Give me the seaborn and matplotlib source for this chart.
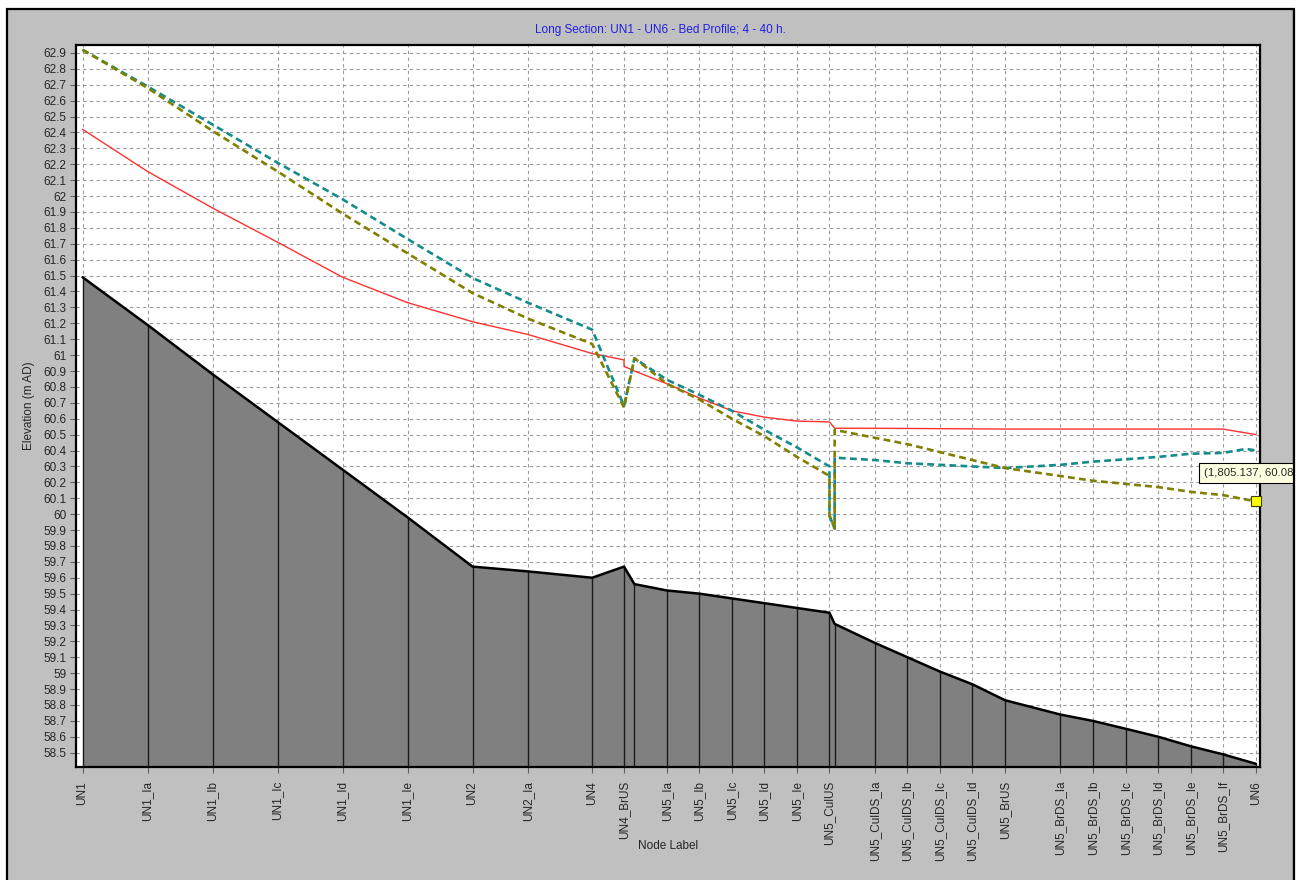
import numpy as np
import pandas as pd
import matplotlib
matplotlib.use("Agg")  # headless
import matplotlib.pyplot as plt
from matplotlib.patches import Rectangle
from matplotlib.ticker import FixedLocator, MultipleLocator, FuncFormatter
import seaborn as sns

# ---------------------------------------------------------------------
# Data (chainage in m, levels in m AD)
# ---------------------------------------------------------------------
node_labels = ["UN1", "UN1_Ia", "UN1_Ib", "UN1_Ic", "UN1_Id", "UN1_Ie", "UN2", "UN2_Ia",
               "UN4", "UN4_BrUS", "", "UN5_Ia", "UN5_Ib", "UN5_Ic", "UN5_Id", "UN5_Ie",
               "UN5_CulUS", "", "UN5_CulDS_Ia", "UN5_CulDS_Ib", "UN5_CulDS_Ic", "UN5_CulDS_Id",
               "UN5_BrUS", "UN5_BrDS_Ia", "UN5_BrDS_Ib", "UN5_BrDS_Ic", "UN5_BrDS_Id",
               "UN5_BrDS_Ie", "UN5_BrDS_If", "UN6"]
node_chainage = [0, 100, 200, 300, 400, 500, 600, 685, 784, 833, 849, 899, 949, 999, 1049, 1099,
                 1149, 1157, 1219, 1269, 1319, 1369, 1419, 1504, 1554, 1605, 1655, 1705, 1754,
                 1805.137]
bed_level = [61.49, 61.19, 60.88, 60.58, 60.28, 59.98, 59.67, 59.64, 59.60, 59.67, 59.56, 59.52,
             59.50, 59.47, 59.44, 59.41, 59.38, 59.31, 59.19, 59.10, 59.01, 58.93, 58.83, 58.74,
             58.70, 58.65, 58.60, 58.54, 58.49, 58.43]

red_x = [0, 100, 200, 300, 400, 500, 600, 685, 784, 833, 833, 849, 899, 949, 999, 1049, 1099,
         1149, 1157, 1219, 1419, 1754, 1805.137]
red_y = [62.42, 62.155, 61.925, 61.71, 61.49, 61.33, 61.21, 61.13, 61.01, 60.97, 60.93, 60.90,
         60.82, 60.73, 60.65, 60.61, 60.585, 60.58, 60.54, 60.54, 60.535, 60.535, 60.50]

teal_x = [0, 100, 200, 300, 400, 500, 600, 685, 784, 833, 849, 899, 949, 999, 1049, 1099, 1149,
          1149, 1157, 1157, 1219, 1269, 1319, 1369, 1419, 1504, 1554, 1605, 1655, 1705, 1754,
          1790, 1805.137]
teal_y = [62.92, 62.69, 62.45, 62.21, 61.98, 61.73, 61.485, 61.33, 61.16, 60.68, 60.98, 60.845,
          60.75, 60.65, 60.53, 60.42, 60.30, 59.99, 59.91, 60.355, 60.34, 60.32, 60.31, 60.30,
          60.29, 60.31, 60.33, 60.345, 60.36, 60.38, 60.385, 60.41, 60.40]

olive_x = [0, 100, 200, 300, 400, 500, 600, 685, 784, 833, 849, 899, 949, 999, 1049, 1099, 1149,
           1149, 1157, 1157, 1219, 1269, 1319, 1369, 1419, 1504, 1554, 1605, 1655, 1705, 1754,
           1805.137]
olive_y = [62.92, 62.68, 62.41, 62.155, 61.89, 61.64, 61.39, 61.23, 61.07, 60.67, 60.98, 60.82,
           60.72, 60.60, 60.49, 60.36, 60.24, 59.99, 59.91, 60.53, 60.48, 60.44, 60.39, 60.34,
           60.29, 60.24, 60.21, 60.19, 60.17, 60.14, 60.12, 60.08]

title = "Long Section: UN1 - UN6 - Bed Profile; 4 - 40 h."
tooltip = "(1,805.137, 60.08"

Y_MIN, Y_MAX = 58.41, 62.95
X_MIN, X_MAX = -10, 1811.3

# ---------------------------------------------------------------------
# Figure
# ---------------------------------------------------------------------
sns.set_style("white")
plt.rcParams["font.family"] = ["Liberation Sans", "DejaVu Sans"]

W, H = 1301, 880
fig = plt.figure(figsize=(W / 100, H / 100), dpi=100, facecolor="white")

# grey window panel with black frame
fig.add_artist(Rectangle((7 / W, -0.01), (1294 - 7) / W, (H - 9) / H + 0.01,
                         transform=fig.transFigure, facecolor="#C0C0C0",
                         edgecolor="black", lw=1.6, zorder=0))

ax = fig.add_axes([76 / W, (H - 767) / H, (1260 - 76) / W, (767 - 45) / H])
ax.set_facecolor("white")
ax.set_axisbelow(True)

# bed profile
ax.fill_between(node_chainage, bed_level, Y_MIN, color="#808080", lw=0, zorder=2)
ax.vlines(node_chainage, Y_MIN, bed_level, color="#1a1a1a", lw=1.0, zorder=3)
ax.plot(node_chainage, bed_level, color="black", lw=1.8, zorder=4)

# water levels
sns.lineplot(x=red_x, y=red_y, ax=ax, estimator=None, sort=False,
             color="#FF3030", lw=1.0, zorder=5)
sns.lineplot(x=teal_x, y=teal_y, ax=ax, estimator=None, sort=False,
             color="#148C8C", lw=1.9, dashes=False, zorder=6)
sns.lineplot(x=olive_x, y=olive_y, ax=ax, estimator=None, sort=False,
             color="#808000", lw=1.9, dashes=False, zorder=7)
for ln in ax.lines[-2:]:
    ln.set_linestyle((0, (2.6, 1.6)))

# marker at the queried point
ax.plot(olive_x[-1], olive_y[-1], marker="s", ms=7, mfc="#FFFF00", mec="#404000",
        mew=0.8, clip_on=False, zorder=9)

ax.set_xlim(X_MIN, X_MAX)
ax.set_ylim(Y_MIN, Y_MAX)

# ticks
shown = [(c, l) for c, l in zip(node_chainage, node_labels) if l]
ax.xaxis.set_major_locator(FixedLocator([c for c, _ in shown]))
ax.set_xticklabels([l for _, l in shown], rotation=90, va="top", ha="center", fontsize=8.5)
ax.xaxis.set_minor_locator(MultipleLocator(25))
ax.yaxis.set_major_locator(MultipleLocator(0.1))
ax.yaxis.set_major_formatter(FuncFormatter(lambda v, p: f"{round(v, 1):g}"))
ax.tick_params(axis="both", which="major", direction="out", length=4, width=0.8,
               color="#606060", labelsize=8.5, pad=3)
ax.tick_params(axis="x", which="minor", direction="out", length=2.5, width=0.6,
               color="#808080")
ax.tick_params(axis="x", which="major", pad=6)
ax.tick_params(left=True, bottom=True)

ax.grid(True, which="major", color="#9A9A9A", lw=0.8, linestyle=(0, (3, 3)), zorder=1)

for s in ax.spines.values():
    s.set_color("black")
    s.set_linewidth(1.6)

ax.set_ylabel("Elevation (m AD)", fontsize=8.5, labelpad=6)
ax.set_xlabel("Node Label", fontsize=8.5)
ax.xaxis.set_label_coords(0.5, -0.101)

fig.text(660 / W, 1 - 30 / H, title, color="#2020E0", fontsize=8.5, ha="center", va="center")

# tooltip
fig.text(1204 / W, 1 - 473 / H, tooltip, fontsize=8.2, ha="left", va="center", zorder=20,
         bbox=dict(boxstyle="square,pad=0.4", fc="#FFFFE1", ec="black", lw=0.8))
# keep the tooltip inside the window frame
fig.add_artist(Rectangle((1295 / W, 0), 6 / W, 1, transform=fig.transFigure,
                         facecolor="white", edgecolor="none", zorder=30))
fig.add_artist(Rectangle((1294 / W, 0), 0.0001, (H - 9) / H, transform=fig.transFigure,
                         facecolor="none", edgecolor="black", lw=1.6, zorder=31))

fig.savefig("out.png", dpi=100)
